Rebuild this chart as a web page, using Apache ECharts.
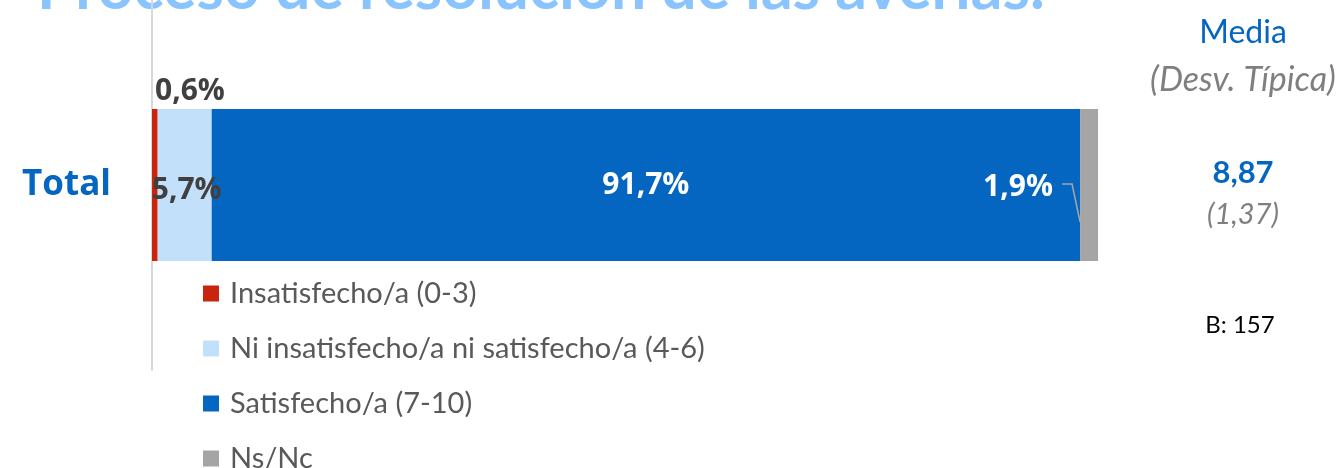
<!DOCTYPE html>
<html><head><meta charset="utf-8">
<script src="https://cdn.jsdelivr.net/npm/echarts@6/dist/echarts.min.js"></script>
<style>html,body{margin:0;padding:0;background:#fff}#c{width:1342px;height:468px}</style>
</head><body><div id="c"></div>
<script>
const categories = ['Total'];
const seriesNames = ['Insatisfecho/a (0-3)', 'Ni insatisfecho/a ni satisfecho/a (4-6)', 'Satisfecho/a (7-10)', 'Ns/Nc'];
const insatisfecho = [0.6];
const neutro = [5.7];
const satisfecho = [91.7];
const nsnc = [1.9];
const media = ['8,87'];
const desvTipica = ['(1,37)'];
const base = ['B: 157'];
const titleText = 'Proceso de resolución de las averías.';

const colors = ['#C9250C', '#C3E0FA', '#0566C2', '#A5A5A5'];
const fmt = p => String(p.value).replace('.', ',') + '%';
const lblFont = { fontFamily: 'Open Sans', fontWeight: 'bold', fontSize: 30 };
// start of the Ns/Nc segment, from the data
const leaderData = categories.map((c, i) => [insatisfecho[i] + neutro[i] + satisfecho[i], c]);

const chart = echarts.init(document.getElementById('c'));
chart.setOption({
  animation: false,
  color: colors,
  grid: { left: 152, right: 243, top: 0, bottom: 98, containLabel: false },
  xAxis: { type: 'value', min: 0, max: 100, show: false },
  yAxis: {
    type: 'category', data: categories,
    axisLine: { show: true, lineStyle: { color: '#D9D9D9', width: 2 } },
    axisTick: { show: false },
    axisLabel: { margin: 41, color: '#0566C2', fontFamily: 'Open Sans', fontWeight: 'bold', fontSize: 35 }
  },
  legend: {
    orient: 'vertical', left: 198, top: 274, height: 320, icon: 'rect',
    itemWidth: 16, itemHeight: 16, itemGap: 26,
    textStyle: { fontFamily: 'Lato', fontSize: 29, color: '#595959', padding: [0, 0, 0, 6] },
    data: seriesNames
  },
  series: [
    { name: seriesNames[0], type: 'bar', stack: 's', barWidth: 152, data: insatisfecho,
      label: Object.assign({ show: true, position: [3, -33], align: 'left', formatter: fmt, color: '#404040' }, lblFont) },
    { name: seriesNames[1], type: 'bar', stack: 's', data: neutro,
      label: Object.assign({ show: true, position: 'inside', offset: [2, 5], formatter: fmt, color: '#404040' }, lblFont) },
    { name: seriesNames[2], type: 'bar', stack: 's', data: satisfecho,
      label: Object.assign({ show: true, position: 'inside', formatter: fmt, color: '#FFFFFF' }, lblFont) },
    { name: seriesNames[3], type: 'bar', stack: 's', data: nsnc,
      label: Object.assign({ show: true, position: 'inside', formatter: fmt, color: '#FFFFFF' }, lblFont),
      labelLayout: { x: 1018, y: 187, align: 'center', verticalAlign: 'middle' } },
    { name: 'leader', type: 'custom', silent: true, data: leaderData, encode: { x: 0, y: 1 }, z: 5,
      renderItem: function (params, api) {
        const p = api.coord([api.value(0), api.value(1)]);
        return { type: 'polyline',
          shape: { points: [[p[0] - 18, p[1] - 1], [p[0] - 8, p[1] - 1], [p[0], p[1] + 37]] },
          style: { stroke: '#A5A5A5', lineWidth: 1.5, fill: null } };
      } }
  ],
  graphic: [
    { type: 'text', left: 37, top: -43, style: { text: titleText, fill: '#8AC4FF', font: 'bold 62.5px Lato' } },
    { type: 'text', x: 1243, y: 33, style: { text: 'Media', fill: '#0566C2', font: '32px Lato', align: 'center', verticalAlign: 'middle' } },
    { type: 'text', x: 1243, y: 80, style: { text: '(Desv. Típica)', fill: '#7F7F7F', font: 'italic 34px Lato', align: 'center', verticalAlign: 'middle' } },
    { type: 'text', x: 1243, y: 173, style: { text: media[0], fill: '#0566C2', font: 'bold 31px Lato', align: 'center', verticalAlign: 'middle' } },
    { type: 'text', x: 1243, y: 215, style: { text: desvTipica[0], fill: '#7F7F7F', font: 'italic 29px Lato', align: 'center', verticalAlign: 'middle' } },
    { type: 'text', x: 1240, y: 325, style: { text: base[0], fill: '#000000', font: '24px Lato', align: 'center', verticalAlign: 'middle' } }
  ]
});
</script></body></html>
